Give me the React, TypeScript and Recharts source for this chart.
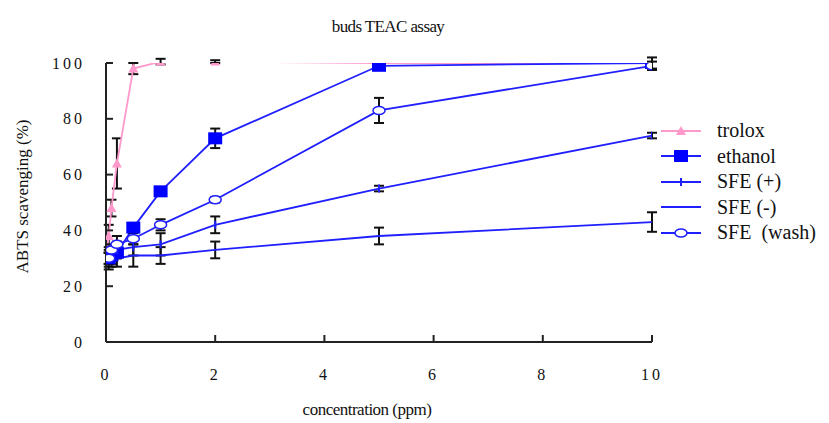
import { CartesianGrid, ErrorBar, Label, Legend, Line, LineChart, XAxis, YAxis } from "recharts";

const concX = [0.05, 0.1, 0.2, 0.5, 1, 2, 5, 10];
const troloxX = [0, 0.05, 0.1, 0.2, 0.5, 1, 2, 5, 10];

const troloxY = [30, 38, 48, 64, 98, 100.5, 100.5, 100, 100];
const troloxErr = [0, 4, 3, 9, 2, 1, 0.5, 0, 0];
const ethanolY = [30, 31, 32, 41, 54, 73, 99, 100];
const ethanolErr = [2, 2, 2, 1, 1, 3.5, 0.5, 2];
const sfePlusY = [30, 31, 33, 34, 35, 42, 55, 74];
const sfePlusErr = [3, 3, 3, 3, 4, 3, 1, 1];
const sfeMinusY = [29, 30, 30, 31, 31, 33, 38, 43];
const sfeMinusErr = [3, 3, 3, 4, 3, 3, 3, 3.5];
const washY = [30, 33, 35, 37, 42, 51, 83, 99];
const washErr = [2, 2, 3, 2, 2, 1, 4.5, 1.5];

const xTicks = [0, 2, 4, 6, 8, 10];
const yTicks = [0, 20, 40, 60, 80, 100];

const BLUE = "#1f1fff";
const PINK = "#ff99cc";
const SERIF = '"Liberation Serif", serif';

const toRows = (xs: number[], ys: number[], es: number[]) =>
  xs.map((x, i) => ({ x, y: ys[i], e: es[i] }));

type Shape = "triangle" | "square" | "plus" | "none" | "ellipse";

function marker(shape: Shape, cx: number, cy: number, key?: string | number) {
  if (shape === "triangle")
    return (
      <polygon key={key} points={`${cx},${cy - 5} ${cx - 5},${cy + 4} ${cx + 5},${cy + 4}`} fill={PINK} />
    );
  if (shape === "square")
    return <rect key={key} x={cx - 7} y={cy - 6} width={14} height={12} fill="#0000ff" />;
  if (shape === "plus")
    return <line key={key} x1={cx} y1={cy - 4} x2={cx} y2={cy + 4} stroke={BLUE} strokeWidth={2} />;
  if (shape === "ellipse")
    return <ellipse key={key} cx={cx} cy={cy} rx={6} ry={4} fill="#fff" stroke={BLUE} strokeWidth={1.5} />;
  return <g key={key} />;
}

const series = [
  { name: "trolox", rows: toRows(troloxX, troloxY, troloxErr), color: PINK, shape: "triangle" as Shape },
  { name: "ethanol", rows: toRows(concX, ethanolY, ethanolErr), color: BLUE, shape: "square" as Shape },
  { name: "SFE (+)", rows: toRows(concX, sfePlusY, sfePlusErr), color: BLUE, shape: "plus" as Shape },
  { name: "SFE (-)", rows: toRows(concX, sfeMinusY, sfeMinusErr), color: BLUE, shape: "none" as Shape },
  { name: "SFE  (wash)", rows: toRows(concX, washY, washErr), color: BLUE, shape: "ellipse" as Shape },
];

function LegendBox() {
  return (
    <div style={{ fontFamily: SERIF, fontSize: 20, color: "#111" }}>
      {series.map((s) => (
        <div key={s.name} style={{ display: "flex", alignItems: "center", height: 25.5, whiteSpace: "pre" }}>
          <svg width={58} height={20}>
            <line x1={2} y1={10} x2={42} y2={10} stroke={s.color} strokeWidth={1.8} />
            {marker(s.shape, 22, 10)}
          </svg>
          <span>{s.name}</span>
        </div>
      ))}
    </div>
  );
}

const tickStyle = { fontFamily: SERIF, fontSize: 16, fill: "#111", letterSpacing: 3 };

export default function App() {
  return (
    <div style={{ position: "absolute", left: 0, top: 0, width: 829, height: 423, background: "#fff" }}>
      <div
        style={{
          position: "absolute",
          left: 0,
          width: 776,
          top: 17,
          textAlign: "center",
          fontFamily: SERIF,
          fontSize: 17,
          letterSpacing: -0.6,
          color: "#111",
        }}
      >
        buds TEAC assay
      </div>
      <LineChart width={829} height={423} margin={{ top: 63, right: 177, bottom: 41, left: 0 }}>
        <CartesianGrid stroke="none" />
        <XAxis
          type="number"
          dataKey="x"
          domain={[0, 10]}
          ticks={xTicks}
          height={40}
          allowDataOverflow
          axisLine={{ stroke: "#222", strokeWidth: 2 }}
          tickLine={{ stroke: "#222", strokeWidth: 2 }}
          tickSize={-7}
          tickMargin={34}
          tick={tickStyle}
        >
          <Label
            content={({ viewBox }: any) => (
              <text
                x={viewBox.x + viewBox.width / 2 - 12}
                y={viewBox.y + 73}
                textAnchor="middle"
                fontFamily={SERIF}
                fontSize={17}
                letterSpacing={-0.5}
                fill="#111"
              >
                concentration (ppm)
              </text>
            )}
          />
        </XAxis>
        <YAxis
          type="number"
          dataKey="y"
          domain={[0, 100]}
          ticks={yTicks}
          width={106}
          allowDataOverflow
          axisLine={{ stroke: "#222", strokeWidth: 2 }}
          tickLine={{ stroke: "#222", strokeWidth: 2 }}
          tickSize={-7}
          tickMargin={28}
          tick={tickStyle}
        >
          <Label
            content={({ viewBox }: any) => {
              const cx = viewBox.x + 22;
              const cy = viewBox.y + viewBox.height / 2 - 6;
              return (
                <text
                  x={cx}
                  y={cy}
                  transform={`rotate(-90 ${cx} ${cy})`}
                  textAnchor="middle"
                  dominantBaseline="central"
                  fontFamily={SERIF}
                  fontSize={17}
                  fill="#111"
                >
                  ABTS scavenging (%)
                </text>
              );
            }}
          />
        </YAxis>
        {series.map((s) => (
          <Line
            key={s.name}
            name={s.name}
            data={s.rows}
            dataKey="y"
            type="linear"
            stroke={s.color}
            strokeWidth={1.8}
            isAnimationActive={false}
            dot={(p: any) => marker(s.shape, p.cx, p.cy, `${s.name}-${p.index}`)}
            activeDot={false}
          >
            <ErrorBar dataKey="e" direction="y" width={5} stroke="#111" strokeWidth={2} />
          </Line>
        ))}
        <Legend
          layout="horizontal"
          align="center"
          verticalAlign="middle"
          wrapperStyle={{ left: 659, top: 118, width: 170 }}
          content={() => <LegendBox />}
        />
      </LineChart>
    </div>
  );
}
